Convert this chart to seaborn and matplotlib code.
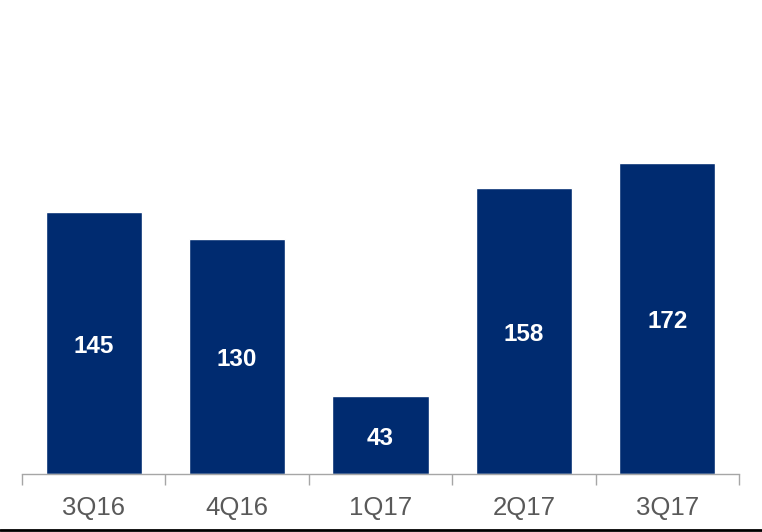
import matplotlib
matplotlib.use("Agg")
import matplotlib.pyplot as plt
import seaborn as sns
import pandas as pd
import numpy as np
from matplotlib.lines import Line2D

quarters = ["3Q16", "4Q16", "1Q17", "2Q17", "3Q17"]
values = [145, 130, 43, 158, 172]

sns.set_theme(style="white")
plt.rcParams['font.family'] = ['Liberation Sans', 'DejaVu Sans']

df = pd.DataFrame({"quarter": quarters, "value": values})

fig = plt.figure(figsize=(7.62, 5.32), dpi=100)
ax = fig.add_axes([22/762, 58/532, (739-22)/762, 474/532])

sns.barplot(data=df, x="quarter", y="value", color="#002B70", width=0.67,
            saturation=1, ax=ax)

ax.set_xlim(-0.5, len(quarters) - 0.5)
ax.set_ylim(0, 262)
ax.set_xlabel("")
ax.set_ylabel("")
ax.set_yticks([])
for s in ["top", "right", "left"]:
    ax.spines[s].set_visible(False)
ax.spines["bottom"].set_color("#A6A6A6")
ax.spines["bottom"].set_linewidth(1)

ax.tick_params(axis="x", which="major", length=0, labelsize=18.5,
               labelcolor="#595959", pad=16)
ax.set_xticks(np.arange(-0.5, len(quarters)), minor=True)
ax.tick_params(axis="x", which="minor", bottom=True, length=8,
               color="#A6A6A6", width=1, direction="out")

for c in ax.containers:
    texts = ax.bar_label(c, labels=[str(v) for v in values], label_type="center",
                         color="white", fontsize=17.5, fontweight="bold")
    for t in texts:
        t.set_va("center")
        t.xyann = (0, -2.5)

fig.add_artist(Line2D([0, 1], [2/532, 2/532], transform=fig.transFigure,
                      color="black", linewidth=2))

fig.savefig("out.png", dpi=100)
